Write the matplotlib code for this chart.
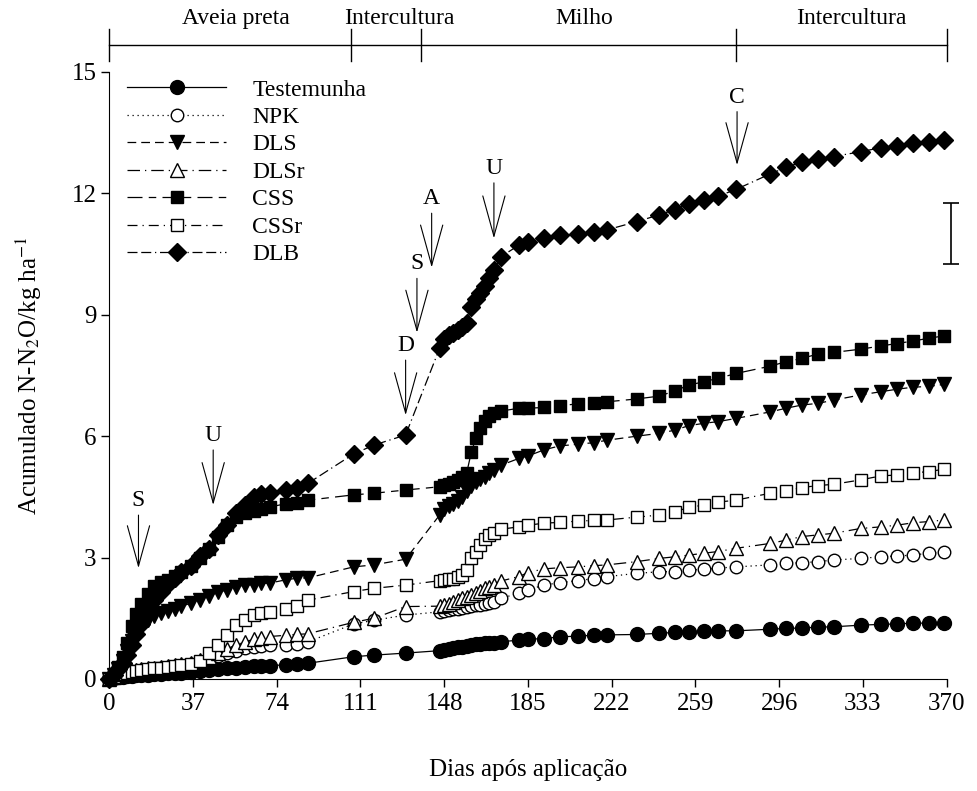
import matplotlib
matplotlib.use("Agg")
import matplotlib.pyplot as plt

plt.rcParams['font.family'] = ['Liberation Serif', 'DejaVu Serif']
plt.rcParams['mathtext.fontset'] = 'stix'

# sampling days (dias apos aplicacao)
days = [0, 2, 4, 6, 8, 10, 12, 14, 17, 20, 23, 26, 29, 32, 36, 40, 44, 48, 52, 56,
        60, 64, 67, 71, 78, 83, 88, 108, 117, 131, 146, 148, 150, 152, 154, 156, 158,
        160, 162, 164, 166, 168, 170, 173, 181, 185, 192, 199, 207, 214, 220, 233,
        243, 250, 256, 263, 269, 277, 292, 299, 306, 313, 320, 332, 341, 348, 355,
        362, 369]

testemunha = [0, 0.02, 0.04, 0.06, 0.07, 0.08, 0.09, 0.1, 0.11, 0.12, 0.13, 0.14, 0.15,
              0.16, 0.17, 0.19, 0.22, 0.24, 0.26, 0.28, 0.3, 0.31, 0.32, 0.33, 0.35, 0.36,
              0.39, 0.55, 0.59, 0.64, 0.7, 0.72, 0.74, 0.76, 0.78, 0.8, 0.82, 0.84, 0.86,
              0.87, 0.88, 0.89, 0.9, 0.92, 0.96, 0.98, 1.0, 1.04, 1.06, 1.08, 1.09, 1.1,
              1.13, 1.15, 1.17, 1.18, 1.19, 1.19, 1.23, 1.25, 1.26, 1.28, 1.29, 1.33, 1.35,
              1.36, 1.38, 1.38, 1.39]

npk = [0, 0.04, 0.08, 0.11, 0.14, 0.17, 0.19, 0.21, 0.23, 0.25, 0.27, 0.29, 0.31, 0.33,
       0.36, 0.42, 0.5, 0.58, 0.63, 0.7, 0.76, 0.8, 0.82, 0.84, 0.84, 0.86, 0.92, 1.36,
       1.45, 1.58, 1.66, 1.68, 1.7, 1.72, 1.74, 1.76, 1.78, 1.8, 1.82, 1.84, 1.86, 1.88,
       1.91, 1.99, 2.12, 2.2, 2.32, 2.38, 2.43, 2.48, 2.53, 2.61, 2.65, 2.65, 2.69, 2.71,
       2.74, 2.77, 2.82, 2.86, 2.87, 2.9, 2.94, 2.98, 3.02, 3.04, 3.06, 3.11, 3.13]

dls = [0, 0.1, 0.25, 0.45, 0.7, 0.95, 1.15, 1.3, 1.45, 1.55, 1.62, 1.68, 1.74, 1.8, 1.87,
       1.95, 2.05, 2.14, 2.2, 2.28, 2.32, 2.33, 2.36, 2.37, 2.45, 2.49, 2.5, 2.77, 2.82,
       2.96, 4.05, 4.2, 4.28, 4.33, 4.4, 4.5, 4.65, 4.78, 4.87, 4.94, 5.0, 5.08, 5.17,
       5.28, 5.45, 5.51, 5.66, 5.76, 5.8, 5.84, 5.9, 6.0, 6.07, 6.15, 6.26, 6.32, 6.36,
       6.44, 6.6, 6.69, 6.77, 6.81, 6.89, 7.02, 7.1, 7.16, 7.21, 7.23, 7.28]

dlsr = [0, 0.05, 0.1, 0.14, 0.17, 0.2, 0.22, 0.24, 0.26, 0.28, 0.3, 0.32, 0.34, 0.36, 0.4,
        0.46, 0.55, 0.65, 0.74, 0.84, 0.92, 0.98, 1.02, 1.05, 1.08, 1.1, 1.12, 1.4, 1.5,
        1.79, 1.8, 1.83, 1.86, 1.9, 1.94, 1.99, 2.03, 2.08, 2.12, 2.18, 2.24, 2.28, 2.33,
        2.42, 2.53, 2.63, 2.72, 2.75, 2.77, 2.8, 2.82, 2.9, 2.98, 3.02, 3.06, 3.11, 3.15,
        3.23, 3.35, 3.43, 3.52, 3.56, 3.6, 3.72, 3.76, 3.8, 3.86, 3.89, 3.93]

css = [0, 0.1, 0.3, 0.55, 0.9, 1.3, 1.6, 1.85, 2.1, 2.3, 2.4, 2.45, 2.55, 2.65, 2.8, 3.0,
       3.2, 3.5, 3.8, 4.0, 4.1, 4.15, 4.2, 4.25, 4.33, 4.36, 4.42, 4.55, 4.59, 4.67, 4.75,
       4.8, 4.83, 4.87, 4.92, 4.98, 5.1, 5.6, 5.95, 6.2, 6.38, 6.5, 6.57, 6.62, 6.69, 6.69,
       6.71, 6.75, 6.8, 6.82, 6.85, 6.92, 6.99, 7.12, 7.26, 7.35, 7.43, 7.55, 7.73, 7.84,
       7.92, 8.03, 8.07, 8.15, 8.23, 8.29, 8.35, 8.42, 8.48]

cssr = [0, 0.05, 0.1, 0.13, 0.16, 0.18, 0.2, 0.22, 0.24, 0.26, 0.28, 0.3, 0.32, 0.34, 0.38,
        0.45, 0.65, 0.85, 1.09, 1.33, 1.46, 1.58, 1.62, 1.66, 1.72, 1.8, 1.95, 2.16, 2.24,
        2.32, 2.43, 2.45, 2.46, 2.48, 2.52, 2.58, 2.7, 2.98, 3.15, 3.32, 3.45, 3.55, 3.62,
        3.7, 3.76, 3.8, 3.85, 3.87, 3.9, 3.92, 3.93, 4.0, 4.05, 4.13, 4.24, 4.3, 4.37,
        4.42, 4.59, 4.65, 4.73, 4.78, 4.81, 4.92, 5.02, 5.04, 5.1, 5.12, 5.19]

dlb = [0, 0.1, 0.25, 0.4, 0.6, 0.85, 1.1, 1.35, 1.7, 1.95, 2.15, 2.35, 2.5, 2.65, 2.8,
       3.05, 3.2, 3.55, 3.8, 4.1, 4.3, 4.5, 4.58, 4.6, 4.67, 4.72, 4.84, 5.56, 5.78, 6.03,
       8.17, 8.4, 8.5, 8.55, 8.62, 8.7, 8.8, 9.2, 9.4, 9.55, 9.7, 9.9, 10.1, 10.43, 10.72,
       10.8, 10.9, 10.97, 11.0, 11.04, 11.1, 11.3, 11.47, 11.6, 11.75, 11.84, 11.93,
       12.1, 12.48, 12.64, 12.78, 12.85, 12.91, 13.03, 13.13, 13.17, 13.24, 13.28, 13.32]

# crop periods (top band)
period_edges = [0, 107, 138, 277, 370]
period_names = ['Aveia preta', 'Intercultura', 'Milho', 'Intercultura']
period_label_x = [56, 128, 210, 328]

# management arrows: label, day, tip, tail
arrow_labels = ['S', 'U', 'D', 'S', 'A', 'U', 'C']
arrow_days = [13, 46, 131, 136, 142.5, 170, 277.4]
arrow_tips = [2.74, 4.3, 6.52, 8.56, 10.17, 10.89, 12.7]
arrow_tails = [4.05, 5.66, 7.88, 9.9, 11.51, 12.26, 14.02]

# error bar (right side)
err_x = 372
err_center = 11.01
err_half = 0.76

fig = plt.figure(figsize=(9.78, 7.91), dpi=100)
ax = fig.add_axes([0.1115, 0.1416, 0.8565, 0.7674])

series = [
    ('Testemunha', testemunha, 'o', 'black', '-', 10),
    ('NPK', npk, 'o', 'white', (0, (1, 3)), 9),
    ('DLS', dls, 'v', 'black', (0, (7, 4)), 10),
    ('DLSr', dlsr, '^', 'white', (0, (10, 4, 1, 4)), 10),
    ('CSS', css, 's', 'black', (0, (12, 5, 6, 5)), 9),
    ('CSSr', cssr, 's', 'white', (0, (8, 4, 1, 4)), 9),
    ('DLB', dlb, 'D', 'black', (0, (8, 3, 8, 3, 1, 3)), 8.8),
]
for i, (name, vals, mk, fc, ls, ms) in enumerate(series):
    ax.plot(days, vals, linestyle=ls, color='black', lw=0.9, marker=mk,
            markersize=ms, markerfacecolor=fc, markeredgecolor='black',
            markeredgewidth=1.0, label=name, zorder=3 + i, clip_on=False)

ax.set_xlim(0, 370)
ax.set_ylim(0, 15)
ax.set_xticks([0, 37, 74, 111, 148, 185, 222, 259, 296, 333, 370])
ax.set_yticks([0, 3, 6, 9, 12, 15])
ax.spines['top'].set_visible(False)
ax.spines['right'].set_visible(False)
ax.tick_params(direction='out', length=6, width=1, labelsize=18)
ax.tick_params(axis='x', pad=4)
ax.tick_params(axis='y', pad=3)
ax.set_xlabel('Dias após aplicação', fontsize=18, labelpad=32)
ax.set_ylabel('Acumulado N-N$_2$O/kg ha$^{-1}$', fontsize=18, labelpad=20)

# top period band
ax.plot([period_edges[0], period_edges[-1]], [15.67, 15.67], color='black', lw=1,
        clip_on=False)
for e in period_edges:
    ax.plot([e, e], [15.27, 16.06], color='black', lw=1, clip_on=False)
for name, px in zip(period_names, period_label_x):
    ax.text(px, 16.33, name, ha='center', va='center', fontsize=17)

# arrows
for lab, d, tip, tail in zip(arrow_labels, arrow_days, arrow_tips, arrow_tails):
    ax.annotate('', xy=(d, tip), xytext=(d, tail),
                arrowprops=dict(arrowstyle='->,head_length=29,head_width=8',
                                mutation_scale=1, color='black', lw=0.8,
                                shrinkA=0, shrinkB=0))
    ax.text(d, tail + 0.1, lab, ha='center', va='bottom', fontsize=17)

ax.errorbar([err_x], [err_center], yerr=[err_half], color='black', lw=1.2,
            capsize=6, capthick=1.2, clip_on=False)

leg = ax.legend(loc='upper left', bbox_to_anchor=(0.13, 0.9),
                bbox_transform=fig.transFigure, frameon=False, fontsize=17,
                handlelength=4.2, handletextpad=1.1, labelspacing=0.25,
                borderpad=0, borderaxespad=0)

plt.savefig('out.png', dpi=100)
